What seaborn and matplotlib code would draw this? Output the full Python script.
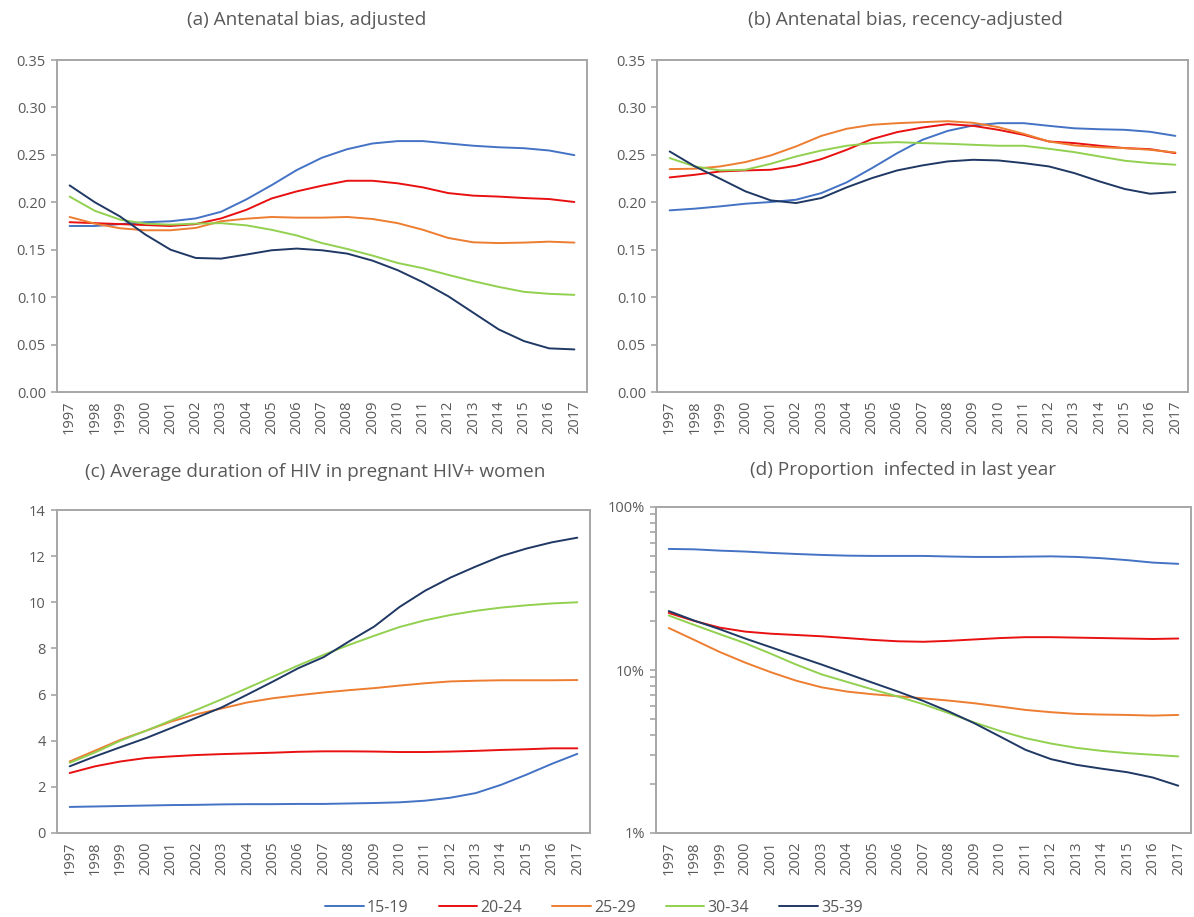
import numpy as np
import pandas as pd
import matplotlib
matplotlib.use("Agg")
import matplotlib.pyplot as plt
from matplotlib.ticker import (PercentFormatter, LogLocator, NullFormatter,
                               MultipleLocator, FormatStrFormatter)
import seaborn as sns

years = list(range(1997, 2018))
groups = ["15-19", "20-24", "25-29", "30-34", "35-39"]
colors = ["#4472C4", "#E81010", "#ED7D31", "#92D050", "#1F3864"]

# (a) Antenatal bias, adjusted
bias_adj = {
    "15-19": [0.175, 0.175, 0.177, 0.179, 0.180, 0.183, 0.190, 0.203, 0.218, 0.234, 0.247,
              0.256, 0.262, 0.2645, 0.2645, 0.262, 0.2596, 0.258, 0.257, 0.2546, 0.2497],
    "20-24": [0.179, 0.178, 0.177, 0.176, 0.175, 0.177, 0.183, 0.192, 0.204, 0.2115, 0.2175,
              0.2227, 0.2227, 0.220, 0.2157, 0.2097, 0.207, 0.206, 0.2045, 0.2034, 0.2003],
    "25-29": [0.1845, 0.1775, 0.1726, 0.1705, 0.1705, 0.173, 0.180, 0.1827, 0.1845, 0.1838, 0.1838,
              0.1845, 0.1824, 0.178, 0.171, 0.1624, 0.1578, 0.157, 0.1575, 0.1585, 0.1575],
    "30-34": [0.206, 0.191, 0.1817, 0.1775, 0.1764, 0.1775, 0.178, 0.1757, 0.171, 0.165, 0.157,
              0.1508, 0.1438, 0.136, 0.1305, 0.1235, 0.1168, 0.1108, 0.1056, 0.1035, 0.1024],
    "35-39": [0.2178, 0.2000, 0.1850, 0.1660, 0.1500, 0.1413, 0.1406, 0.1449, 0.1494, 0.1512, 0.1494,
              0.1459, 0.1385, 0.1284, 0.1157, 0.101, 0.0835, 0.066, 0.0537, 0.046, 0.0449],
}

# (b) Antenatal bias, recency-adjusted
bias_rec = {
    "15-19": [0.1915, 0.1933, 0.1957, 0.1985, 0.2003, 0.2027, 0.2097, 0.221, 0.236, 0.2518, 0.2659,
              0.2753, 0.281, 0.2834, 0.2834, 0.2806, 0.278, 0.277, 0.2764, 0.2743, 0.270],
    "20-24": [0.2262, 0.229, 0.2325, 0.2336, 0.2343, 0.2385, 0.2455, 0.2553, 0.2666, 0.274, 0.2788,
              0.2824, 0.2806, 0.2764, 0.2711, 0.2641, 0.2624, 0.2596, 0.2571, 0.256, 0.2518],
    "25-29": [0.235, 0.2354, 0.2378, 0.2424, 0.2494, 0.2589, 0.270, 0.2775, 0.2817, 0.2834, 0.2845,
              0.2855, 0.2838, 0.2792, 0.2722, 0.2641, 0.260, 0.258, 0.2571, 0.2553, 0.2525],
    "30-34": [0.2466, 0.2378, 0.2336, 0.2343, 0.2406, 0.2483, 0.2546, 0.2596, 0.2624, 0.2634, 0.2624,
              0.2617, 0.2606, 0.2596, 0.2596, 0.2564, 0.2529, 0.2483, 0.2438, 0.2413, 0.2396],
    "35-39": [0.2536, 0.2378, 0.2248, 0.2115, 0.202, 0.1992, 0.2045, 0.2157, 0.2255, 0.2336, 0.2389,
              0.2431, 0.2448, 0.2441, 0.2413, 0.2378, 0.2308, 0.222, 0.214, 0.209, 0.2108],
}

# (c) Average duration of HIV (years)
duration = {
    "15-19": [1.13, 1.15, 1.17, 1.19, 1.21, 1.22, 1.24, 1.25, 1.25, 1.26, 1.26,
              1.28, 1.30, 1.33, 1.40, 1.53, 1.73, 2.09, 2.53, 3.00, 3.43],
    "20-24": [2.60, 2.89, 3.10, 3.25, 3.32, 3.38, 3.42, 3.45, 3.48, 3.52, 3.54,
              3.54, 3.53, 3.51, 3.51, 3.53, 3.56, 3.60, 3.63, 3.67, 3.67],
    "25-29": [3.10, 3.57, 4.04, 4.43, 4.83, 5.15, 5.40, 5.66, 5.84, 5.97, 6.09,
              6.19, 6.28, 6.39, 6.49, 6.57, 6.60, 6.62, 6.62, 6.62, 6.63],
    "30-34": [3.04, 3.49, 4.00, 4.43, 4.88, 5.34, 5.80, 6.28, 6.77, 7.26, 7.72,
              8.15, 8.55, 8.93, 9.22, 9.45, 9.63, 9.77, 9.87, 9.95, 10.0],
    "35-39": [2.89, 3.32, 3.72, 4.11, 4.55, 5.00, 5.45, 6.00, 6.56, 7.14, 7.62,
              8.30, 8.95, 9.80, 10.50, 11.07, 11.55, 12.00, 12.33, 12.60, 12.80],
}

# (d) Proportion infected in last year
recent = {
    "15-19": [0.553, 0.550, 0.540, 0.533, 0.523, 0.515, 0.508, 0.503, 0.501, 0.501, 0.501,
              0.497, 0.494, 0.494, 0.496, 0.498, 0.494, 0.485, 0.472, 0.456, 0.448],
    "20-24": [0.224, 0.200, 0.182, 0.172, 0.167, 0.164, 0.161, 0.157, 0.153, 0.150, 0.149,
              0.151, 0.154, 0.157, 0.159, 0.159, 0.158, 0.157, 0.156, 0.155, 0.156],
    "25-29": [0.181, 0.153, 0.129, 0.111, 0.097, 0.086, 0.0783, 0.0737, 0.0710, 0.0690, 0.0670,
              0.0649, 0.0625, 0.0597, 0.0569, 0.0551, 0.0538, 0.0533, 0.0530, 0.0525, 0.0530],
    "30-34": [0.216, 0.189, 0.166, 0.146, 0.126, 0.108, 0.094, 0.0845, 0.076, 0.0687, 0.0616,
              0.0543, 0.0476, 0.0423, 0.0382, 0.0354, 0.0333, 0.0319, 0.0309, 0.0302, 0.0295],
    "35-39": [0.230, 0.201, 0.178, 0.156, 0.138, 0.122, 0.108, 0.095, 0.0836, 0.0737, 0.0645,
              0.0556, 0.0471, 0.0391, 0.0324, 0.0284, 0.0262, 0.0248, 0.0236, 0.0219, 0.0195],
}

titles = ["(a) Antenatal bias, adjusted",
          "(b) Antenatal bias, recency-adjusted",
          "(c) Average duration of HIV in pregnant HIV+ women",
          "(d) Proportion  infected in last year"]

sns.set_theme(style="white")
plt.rcParams["font.family"] = ["Open Sans", "DejaVu Sans"]

TEXT = "#595959"
SPINE = "#A6A6A6"


def long_frame(d):
    rows = []
    for g in groups:
        for y, v in zip(years, d[g]):
            rows.append({"year": y, "value": v, "group": g})
    return pd.DataFrame(rows)


fig = plt.figure(figsize=(11.94, 9.17), dpi=100)
W, H = 1194, 917


def add_axes(l, r, t, b):
    return fig.add_axes([l / W, 1 - b / H, (r - l) / W, (b - t) / H])


ax_a = add_axes(57, 587, 60, 392)
ax_b = add_axes(657, 1188, 60, 392)
ax_c = add_axes(57, 590, 510, 833)
ax_d = add_axes(656, 1191, 507, 833)
axes = [ax_a, ax_b, ax_c, ax_d]
datasets = [bias_adj, bias_rec, duration, recent]
palette = dict(zip(groups, colors))

for ax, d in zip(axes, datasets):
    df = long_frame(d)
    sns.lineplot(data=df, x="year", y="value", hue="group", palette=palette,
                 linewidth=1.4, ax=ax, legend=False)
    ax.set_xlim(1996.5, 2017.5)
    ax.set_xticks(years)
    ax.set_xticklabels([str(y) for y in years], rotation=90, fontsize=10.5, color=TEXT)
    ax.set_xlabel("")
    ax.set_ylabel("")
    for s in ax.spines.values():
        s.set_color(SPINE)
        s.set_linewidth(1.4)
        s.set_visible(True)
    ax.tick_params(axis="x", length=0, pad=6, colors=TEXT)
    ax.tick_params(axis="y", which="both", length=4, width=1.2, color=SPINE,
                   direction="out", left=True, labelsize=10.5, labelcolor=TEXT, pad=4)

# Panel titles placed in figure pixel coordinates
title_pos = [(307, 20), (905, 20), (315, 472), (903, 470)]
for (x, y), t in zip(title_pos, titles):
    fig.text(x / W, 1 - y / H, t, ha="center", va="center", fontsize=13.7, color=TEXT)

for ax in (ax_a, ax_b):
    ax.set_ylim(0, 0.35)
    ax.yaxis.set_major_locator(MultipleLocator(0.05))
    ax.yaxis.set_major_formatter(FormatStrFormatter("%.2f"))

ax_c.set_ylim(0, 14)
ax_c.yaxis.set_major_locator(MultipleLocator(2))

ax_d.set_yscale("log")
ax_d.set_ylim(0.01, 1)
ax_d.yaxis.set_major_locator(LogLocator(base=10, numticks=5))
ax_d.yaxis.set_minor_locator(LogLocator(base=10, subs=np.arange(2, 10), numticks=20))
ax_d.yaxis.set_major_formatter(PercentFormatter(1.0, decimals=0))
ax_d.yaxis.set_minor_formatter(NullFormatter())
ax_d.tick_params(axis="y", which="both", length=4, width=1.2, color=SPINE, direction="out")

handles = [plt.Line2D([], [], color=c, linewidth=1.4) for c in colors]
fig.legend(handles, groups, loc="center", bbox_to_anchor=(594 / W, 1 - 908 / H),
           ncol=5, frameon=False, fontsize=11.5, handlelength=2.4, columnspacing=1.9,
           handletextpad=0.2, labelcolor=TEXT)

fig.savefig("out.png", dpi=100, facecolor="white")
